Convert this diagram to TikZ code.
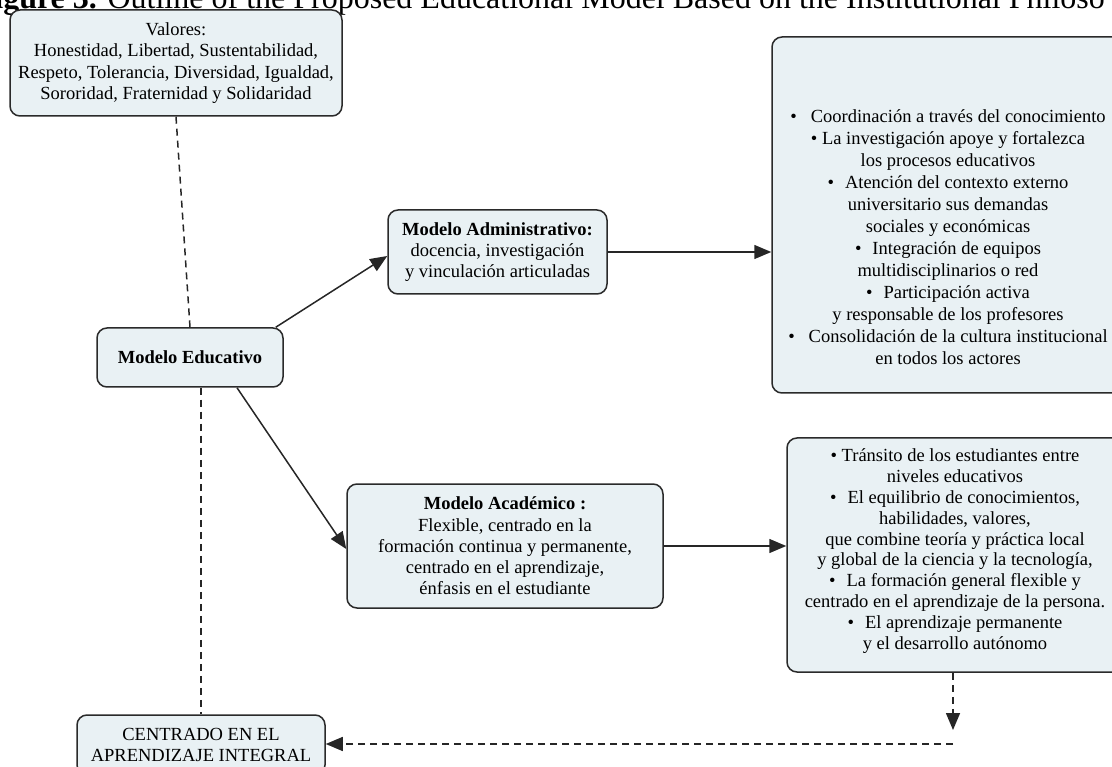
\documentclass[tikz,border=0pt]{standalone}
\usepackage{fontspec}
\setmainfont{Liberation Serif}
\usetikzlibrary{arrows.meta,calc}
\definecolor{boxfill}{HTML}{E9F1F4}
\definecolor{boxline}{HTML}{2A2A2A}
\tikzset{
  cbox/.style={draw=boxline, line width=1.5pt, fill=boxfill, rounded corners=10pt,
    align=center, inner sep=0pt, font=\fontsize{18.5}{21.3}\selectfont},
  btext/.style={align=center, inner sep=0pt, font=\fontsize{18.5}{21.3}\selectfont},
  conn/.style={line width=1.5pt, draw=black!85},
  tip/.style={-{Triangle[length=17pt,width=14pt]}},
  dsh/.style={dash pattern=on 7pt off 5pt}
}
\begin{document}
\begin{tikzpicture}[x=1pt,y=-1pt]
\useasboundingbox (0,0) rectangle (1112,767);
\clip (0,0) rectangle (1112,767);
\node[anchor=base east, inner sep=0pt, font=\fontsize{32}{36}\selectfont] (title) at (1105,9)
  {\textbf{Figure 3.} Outline of the Proposed Educational Model Based on the Institutional Philoso};

\node[cbox, minimum width=332pt, minimum height=106pt] (valores) at (176,63)
  {Valores:\\Honestidad, Libertad, Sustentabilidad,\\Respeto, Tolerancia, Diversidad, Igualdad,\\Sororidad, Fraternidad y Solidaridad};
\node[cbox, minimum width=186pt, minimum height=59pt] (modelo) at (190,357.5)
  {\textbf{Modelo Educativo}};
\node[cbox, minimum width=219pt, minimum height=84pt] (admin) at (497.5,252)
  {\textbf{Modelo Administrativo:}\\docencia, investigación\\y vinculación articuladas};
\node[cbox, minimum width=316pt, minimum height=124pt] (acad) at (505,546)
  {\textbf{Modelo Académico :}\\Flexible, centrado en la\\formación continua y permanente,\\centrado en el aprendizaje,\\énfasis en el estudiante};
\node[cbox, minimum width=352pt, minimum height=356pt] (box1) at (948,215) {};
\node[btext, font=\fontsize{18.5}{22}\selectfont] (box1t) at (948,237)
  {•\hspace{14pt}Coordinación a través del conocimiento\\
   • La investigación apoye y fortalezca\\
   los procesos educativos\\
   •\hspace{11pt}Atención del contexto externo\\
   universitario sus demandas\\
   sociales y económicas\\
   •\hspace{11pt}Integración de equipos\\
   multidisciplinarios o red\\
   •\hspace{11pt}Participación activa\\
   y responsable de los profesores\\
   •\hspace{14pt}Consolidación de la cultura institucional\\
   en todos los actores};
\node[cbox, minimum width=336pt, minimum height=234pt] (box2) at (955,555) {};
\node[btext, font=\fontsize{18.5}{20.8}\selectfont] (box2t) at (955,551)
  {• Tránsito de los estudiantes entre\\
   niveles educativos\\
   •\hspace{11pt}El equilibrio de conocimientos,\\
   habilidades, valores,\\
   que combine teoría y práctica local\\
   y global de la ciencia y la tecnología,\\
   •\hspace{11pt}La formación general flexible y\\
   centrado en el aprendizaje de la persona.\\
   •\hspace{11pt}El aprendizaje permanente\\
   y el desarrollo autónomo};
\node[cbox, minimum width=248pt, minimum height=60pt] (centrado) at (201,745)
  {CENTRADO EN EL\\APRENDIZAJE INTEGRAL};

\coordinate (d1) at (953,730);
\coordinate (d2) at (953,744);

\draw[conn, dsh] (valores.south) -- (modelo.north);
\draw[conn, dsh] (modelo.south -| centrado.north) -- (centrado.north);
\draw[conn, tip] ([xshift=-8pt]modelo.north east) -- ([yshift=-4pt]admin.west);
\draw[conn, tip] ([xshift=47pt]modelo.south) -- ([yshift=-3pt]acad.west);
\draw[conn, tip] (admin.east) -- (admin.east -| box1.west);
\draw[conn, tip] (acad.east) -- (acad.east -| box2.west);
\draw[conn, dsh, tip] (box2.south -| d1) -- (d1);
\draw[conn, dsh, tip] (d2) -- (d2 -| centrado.east);
\end{tikzpicture}
\end{document}
